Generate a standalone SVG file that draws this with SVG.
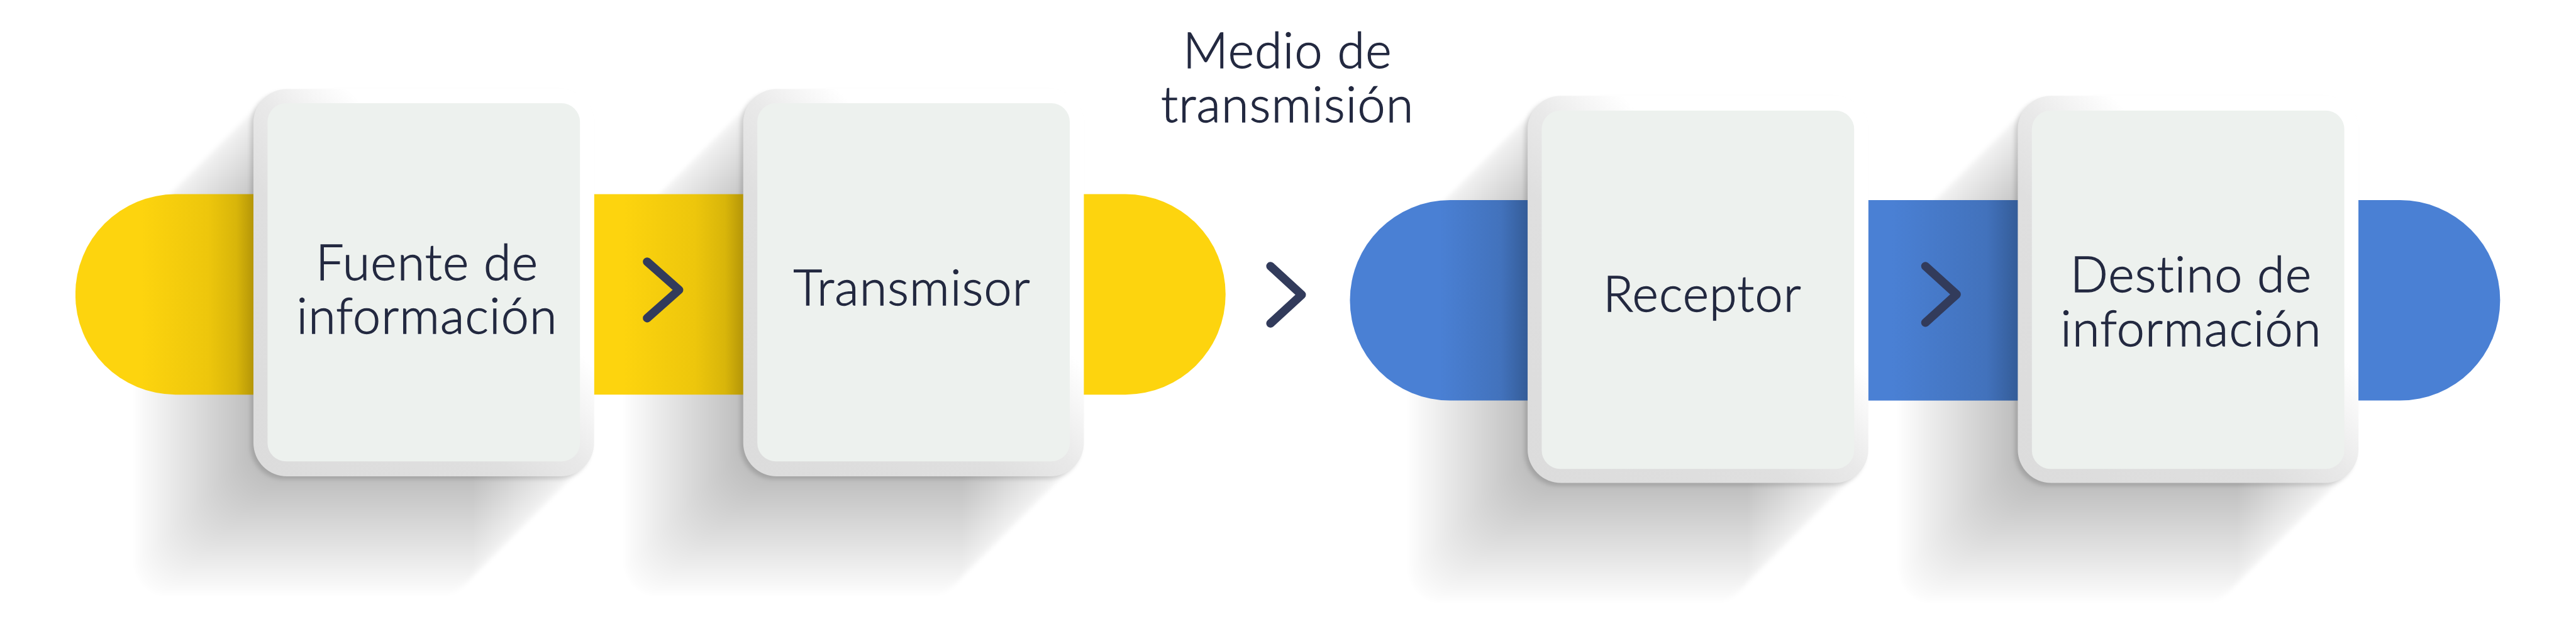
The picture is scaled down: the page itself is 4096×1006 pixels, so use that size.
<svg xmlns="http://www.w3.org/2000/svg" xmlns:xlink="http://www.w3.org/1999/xlink" width="4096" height="1006" viewBox="0 0 4096 1006">
<style>
.lbl{font-family:"Lato","Noto Sans","Liberation Sans",sans-serif;font-weight:300;font-size:134px;letter-spacing:2px;fill:#232940;stroke:#232940;stroke-width:2.2px;text-anchor:middle}
.rim{fill:url(#rim)}
.face{fill:#EDF1EE}
.chev{fill:none;stroke:#323B5B;stroke-width:23;stroke-linecap:round;stroke-linejoin:round}
</style>
<defs>
<rect id="cardShape" width="918" height="1043" rx="90"/>
<g id="longShadow" fill="#000" fill-opacity="0.0105">
<use xlink:href="#cardShape" x="-10" y="10"/><use xlink:href="#cardShape" x="-20" y="20"/><use xlink:href="#cardShape" x="-30" y="30"/><use xlink:href="#cardShape" x="-40" y="40"/>
<use xlink:href="#cardShape" x="-50" y="50"/><use xlink:href="#cardShape" x="-60" y="60"/><use xlink:href="#cardShape" x="-70" y="70"/><use xlink:href="#cardShape" x="-80" y="80"/>
<use xlink:href="#cardShape" x="-90" y="90"/><use xlink:href="#cardShape" x="-100" y="100"/><use xlink:href="#cardShape" x="-110" y="110"/><use xlink:href="#cardShape" x="-120" y="120"/>
<use xlink:href="#cardShape" x="-130" y="130"/><use xlink:href="#cardShape" x="-140" y="140"/><use xlink:href="#cardShape" x="-150" y="150"/><use xlink:href="#cardShape" x="-160" y="160"/>
<use xlink:href="#cardShape" x="-170" y="170"/><use xlink:href="#cardShape" x="-180" y="180"/><use xlink:href="#cardShape" x="-190" y="190"/><use xlink:href="#cardShape" x="-200" y="200"/>
<use xlink:href="#cardShape" x="-210" y="210"/><use xlink:href="#cardShape" x="-220" y="220"/><use xlink:href="#cardShape" x="-230" y="230"/><use xlink:href="#cardShape" x="-240" y="240"/>
<use xlink:href="#cardShape" x="-250" y="250"/><use xlink:href="#cardShape" x="-260" y="260"/><use xlink:href="#cardShape" x="-270" y="270"/><use xlink:href="#cardShape" x="-280" y="280"/>
<use xlink:href="#cardShape" x="-290" y="290"/><use xlink:href="#cardShape" x="-300" y="300"/><use xlink:href="#cardShape" x="-310" y="310"/><use xlink:href="#cardShape" x="-320" y="320"/>
<use xlink:href="#cardShape" x="-8" y="8" fill-opacity="0.14"/>
</g>
<filter id="soft" x="-30%" y="-30%" width="160%" height="160%"><feGaussianBlur stdDeviation="5"/></filter>
<linearGradient id="rim" x1="0" y1="1" x2="1" y2="0">
<stop offset="0" stop-color="#dcdcdc"/><stop offset="0.38" stop-color="#dfdfdf"/><stop offset="0.5" stop-color="#e9e9e9"/><stop offset="0.58" stop-color="#f6f6f6"/><stop offset="0.64" stop-color="#ffffff"/>
</linearGradient>
<linearGradient id="gY1" gradientUnits="userSpaceOnUse" x1="380" y1="0" x2="683" y2="0">
<stop offset="0" stop-color="#FDD40E"/><stop offset="0.6" stop-color="#EDC60C"/><stop offset="0.85" stop-color="#D8B50A"/><stop offset="1" stop-color="#B59608"/>
</linearGradient>
<linearGradient id="gY2" gradientUnits="userSpaceOnUse" x1="1680" y1="0" x2="2003" y2="0">
<stop offset="0" stop-color="#FDD40E"/><stop offset="0.6" stop-color="#EDC60C"/><stop offset="0.85" stop-color="#D8B50A"/><stop offset="1" stop-color="#B59608"/>
</linearGradient>
<linearGradient id="gB1" gradientUnits="userSpaceOnUse" x1="3880" y1="0" x2="4117" y2="0">
<stop offset="0" stop-color="#4A80D4"/><stop offset="0.7" stop-color="#4272BC"/><stop offset="1" stop-color="#345C98"/>
</linearGradient>
<linearGradient id="gB2" gradientUnits="userSpaceOnUse" x1="5100" y1="0" x2="5438" y2="0">
<stop offset="0" stop-color="#4A80D4"/><stop offset="0.75" stop-color="#4272BC"/><stop offset="1" stop-color="#345C98"/>
</linearGradient>
</defs>
<rect width="4096" height="1006" fill="#ffffff"/>
<g transform="scale(0.59)">
<g id="shadows" filter="url(#soft)">
<use xlink:href="#longShadow" x="683" y="240"/>
<use xlink:href="#longShadow" x="2003" y="240"/>
<use xlink:href="#longShadow" x="4117" y="258"/>
<use xlink:href="#longShadow" x="5438" y="258"/>
</g>
<g id="connectors">
<path d="M720 523H473A270 270 0 0 0 473 1063H720Z" fill="url(#gY1)"/>
<rect x="1601" y="523" width="420" height="540" fill="url(#gY2)"/>
<path d="M2915 523H3033A270 270 0 0 1 3033 1063H2915Z" fill="#FDD40E"/>
<path d="M4140 539H3908A270 270 0 0 0 3908 1079H4140Z" fill="url(#gB1)"/>
<rect x="5035" y="539" width="420" height="540" fill="url(#gB2)"/>
<path d="M6350 539H6468A270 270 0 0 1 6468 1079H6350Z" fill="#4A80D4"/>
<path class="chev" d="M1744 705L1830 781L1744 857"/>
<path class="chev" d="M3424 717L3508 794L3424 871"/>
<path class="chev" d="M5189 717L5273 793L5189 869"/>
</g>
<g id="node-fuente">
<rect class="rim" x="683" y="240" width="918" height="1043" rx="90"/>
<rect class="face" x="721" y="278" width="842" height="965" rx="50"/>
<text class="lbl" x="1151" y="754">Fuente de</text>
<text class="lbl" x="1151" y="899">información</text>
</g>
<g id="node-transmisor">
<rect class="rim" x="2003" y="240" width="918" height="1043" rx="90"/>
<rect class="face" x="2041" y="278" width="842" height="965" rx="50"/>
<text class="lbl" x="2458" y="822">Transmisor</text>
</g>
<g id="node-medio">
<text class="lbl" x="3470" y="183">Medio de</text>
<text class="lbl" x="3470" y="329">transmisión</text>
</g>
<g id="node-receptor">
<rect class="rim" x="4117" y="258" width="918" height="1043" rx="90"/>
<rect class="face" x="4155" y="298" width="842" height="965" rx="50"/>
<text class="lbl" x="4588" y="839">Receptor</text>
</g>
<g id="node-destino">
<rect class="rim" x="5438" y="258" width="918" height="1043" rx="90"/>
<rect class="face" x="5476" y="298" width="842" height="965" rx="50"/>
<text class="lbl" x="5905" y="787">Destino de</text>
<text class="lbl" x="5905" y="932">información</text>
</g>
</g>
</svg>
